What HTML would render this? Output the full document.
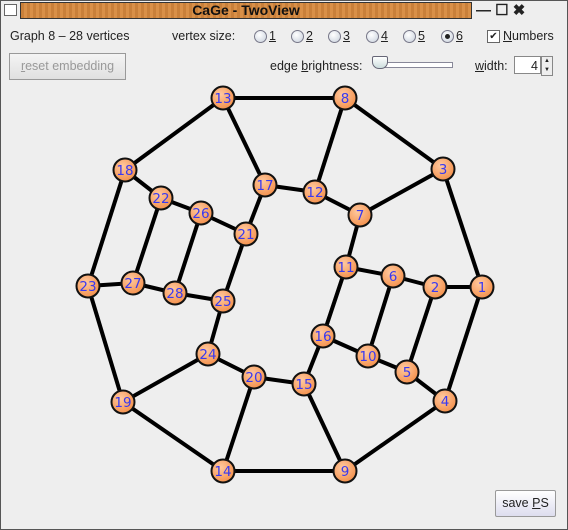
<!DOCTYPE html>
<html><head><meta charset="utf-8"><style>
body{margin:0;width:568px;height:530px;overflow:hidden;background:#eee;font-family:"Liberation Sans",sans-serif;font-size:12.5px;color:#222}
.win{position:absolute;left:0;top:0;width:566px;height:528px;border:1px solid #555;background:#eee}
.abs{position:absolute}
.u{text-decoration:underline}
.radio{position:absolute;width:11px;height:11px;border:1px solid #778;border-radius:50%;background:radial-gradient(circle at 40% 35%,#fff,#c8d0dc)}
</style></head><body>
<div class="win">
<div class="abs" style="left:3px;top:3px;width:11px;height:10px;border:1px solid #666;background:#fff"></div>
<div class="abs" style="left:19px;top:1px;width:450px;height:15px;border:1px solid #333;background:repeating-linear-gradient(90deg,#c9803a 0 3px,#d99048 3px 6px);text-align:center;font-weight:bold;font-size:14px;line-height:15px;color:#111">CaGe - TwoView</div>
<div class="abs" style="left:475px;top:0px;font-size:15px;font-weight:bold">&#8212; &#9744; &#10006;</div>
<div class="abs" style="left:9px;top:28px">Graph 8 – 28 vertices</div>
<div class="abs" style="left:171px;top:28px">vertex size:</div>
<div id="radios"></div>
<div class="abs" style="left:486px;top:29px;width:11px;height:11px;border:1px solid #666;background:#fff;font-size:10px;line-height:11px;text-align:center">&#10004;</div>
<div class="abs" style="left:502px;top:28px"><span class="u">N</span>umbers</div>
<div class="abs" style="left:8px;top:52px;width:115px;height:25px;border:1px solid #999;background:linear-gradient(#f4f4f4,#e0e0e0);color:#999;text-align:center;line-height:25px"><span class="u">r</span>eset embedding</div>
<div class="abs" style="left:269px;top:58px">edge <span class="u">b</span>rightness:</div>
<div class="abs" style="left:376px;top:61px;width:74px;height:4px;border:1px solid #889;background:#fff"></div>
<div class="abs" style="left:371px;top:55px;width:14px;height:11px;border:1px solid #667;background:linear-gradient(#fff,#cdd);border-radius:2px 2px 7px 7px"></div>
<div class="abs" style="left:474px;top:58px"><span class="u">w</span>idth:</div>
<div class="abs" style="left:513px;top:55px;height:18px;border:1px solid #888;background:#fff;text-align:right;line-height:18px;padding-right:2px;box-sizing:border-box;width:27px">4</div>
<div class="abs" style="left:540px;top:55px;width:10px;height:18px;border:1px solid #888;background:#eee;font-size:6px;line-height:9px;text-align:center">▲<br>▼</div>
<svg class="abs" style="left:0;top:0" width="566" height="528" id="g">
<defs><radialGradient id="ng" cx="40%" cy="35%" r="65%"><stop offset="0" stop-color="#ffc9a0"/><stop offset="1" stop-color="#f4924e"/></radialGradient></defs>
</svg>
<div class="abs" style="left:494px;top:489px;width:59px;height:25px;border:1px solid #999;border-radius:2px;background:linear-gradient(#fff,#dde);text-align:center;line-height:25px">save <span class="u">P</span>S</div>
</div>
<script>
const labels=["1","2","3","4","5","6"];
const R=document.getElementById('radios');
labels.forEach((l,i)=>{const x=[253,290,327,365,402,440][i];
const r=document.createElement('div');r.className='radio';r.style.left=x+'px';r.style.top='29px';


if(l==='6')r.innerHTML='<div style="width:5px;height:5px;background:#222;border-radius:50%;margin:3px"></div>';
R.appendChild(r);
const t=document.createElement('div');t.className='abs u';t.style.left=(x+15)+'px';t.style.top='28px';t.textContent=l;


R.appendChild(t);});
const nodes={1:[481,286],2:[434,286],3:[442,168],4:[444,400],5:[406,371],6:[392,275],7:[359,214],8:[344,97],9:[344,470],10:[367,355],11:[345,266],12:[314,191],13:[222,97],14:[222,470],15:[303,383],16:[322,335],17:[264,184],18:[124,169],19:[122,401],20:[253,376],21:[245,233],22:[160,197],23:[87,285],24:[207,353],25:[222,300],26:[200,212],27:[132,282],28:[174,292]};
const edges=[[13,8],[8,3],[3,1],[1,4],[4,9],[9,14],[14,19],[19,23],[23,18],[18,13],[13,17],[8,12],[17,12],[12,7],[7,3],[7,11],[11,6],[6,2],[2,1],[6,10],[2,5],[5,4],[10,5],[16,10],[11,16],[16,15],[15,9],[15,20],[20,14],[20,24],[24,19],[24,25],[25,21],[21,17],[21,26],[26,22],[22,18],[26,28],[22,27],[27,23],[27,28],[28,25]];
const g=document.getElementById('g');const NS='http://www.w3.org/2000/svg';
edges.forEach(([a,b])=>{const l=document.createElementNS(NS,'line');
l.setAttribute('x1',nodes[a][0]);l.setAttribute('y1',nodes[a][1]);l.setAttribute('x2',nodes[b][0]);l.setAttribute('y2',nodes[b][1]);
l.setAttribute('stroke','#000');l.setAttribute('stroke-width','4');


g.appendChild(l);});
Object.keys(nodes).forEach(k=>{const [x,y]=nodes[k];
const c=document.createElementNS(NS,'circle');c.setAttribute('cx',x);c.setAttribute('cy',y);c.setAttribute('r','11.5');
c.setAttribute('fill','url(#ng)');c.setAttribute('stroke','#111');c.setAttribute('stroke-width','2');


g.appendChild(c);
const t=document.createElementNS(NS,'text');t.setAttribute('x',x);t.setAttribute('y',y+5);t.setAttribute('text-anchor','middle');
t.setAttribute('font-family','DejaVu Sans, sans-serif');t.setAttribute('font-size','13.5');t.setAttribute('fill','#3a3af0');
t.textContent=k;


g.appendChild(t);});
</script>
</body></html>
